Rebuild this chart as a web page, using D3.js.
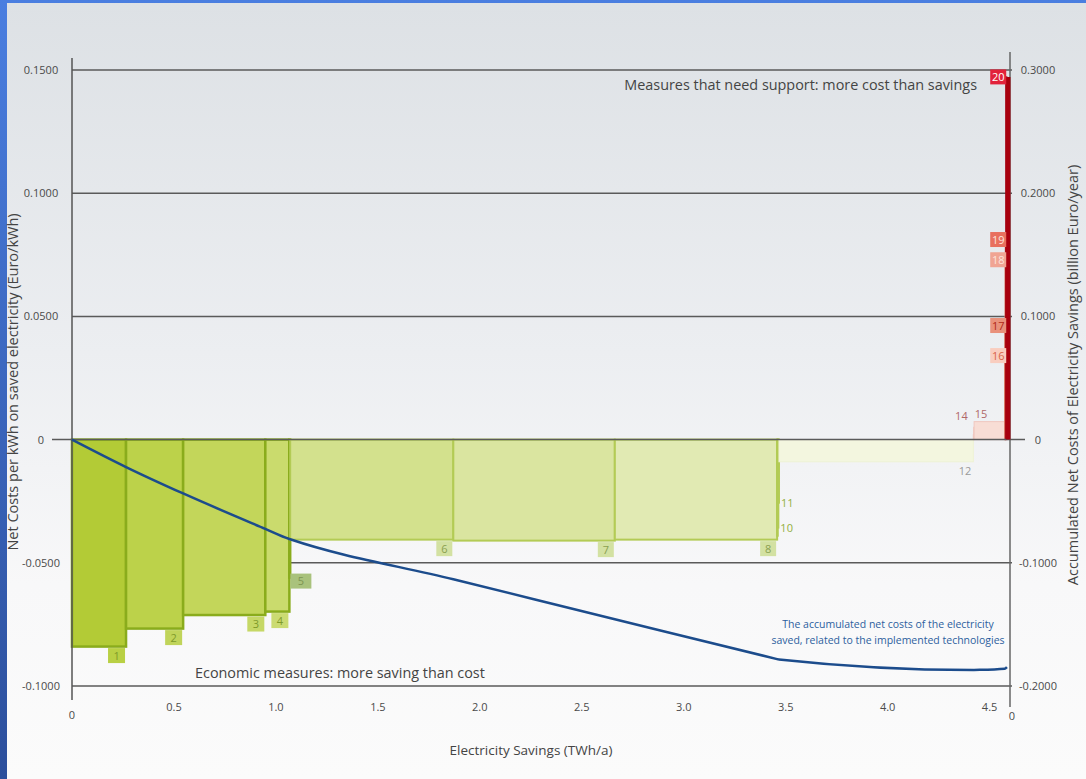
<!DOCTYPE html>
<html>
<head>
<meta charset="utf-8">
<script src="https://cdn.jsdelivr.net/npm/d3@7"></script>
<style>
html,body{margin:0;padding:0;background:#3a68c8;}
svg{display:block;}
text{font-family:"Open Sans","Liberation Sans",sans-serif;}
</style>
</head>
<body>
<svg id="chart" width="1086" height="779"></svg>
<script>
// ---- data ----
const measures = ["1","2","3","4","5","6","7","8","9","10","11","12","13","14","15","16","17","18","19","20"];
// electricity saved per measure (TWh/a)
const savings  = [0.265,0.280,0.403,0.118,0.004,0.800,0.792,0.796,0.003,0.003,0.003,0.953,0.002,0.002,0.150,0.001,0.001,0.001,0.002,0.006];
// net cost per kWh saved (Euro/kWh)
const netCost  = [-0.0840,-0.0767,-0.0712,-0.0698,-0.0560,-0.0406,-0.0410,-0.0406,-0.0390,-0.0357,-0.0256,-0.0090,0.0020,0.0050,0.0073,0.0341,0.0463,0.0730,0.0812,0.1472];
const leftTicks = [0.15,0.10,0.05,0,-0.05,-0.10];
const leftTickLabels = ["0.1500","0.1000","0.0500","0","-0.0500","-0.1000"];
const rightTicks = [0.3,0.2,0.1,0,-0.1,-0.2];
const rightTickLabels = ["0.3000","0.2000","0.1000","0","-0.1000","-0.2000"];
const xTicks = [0.5,1.0,1.5,2.0,2.5,3.0,3.5,4.0,4.5];
const xTickLabels = ["0.5","1.0","1.5","2.0","2.5","3.0","3.5","4.0","4.5"];
const titleTop = "Measures that need support: more cost than savings";
const titleBottom = "Economic measures: more saving than cost";
const lineNote = ["The accumulated net costs of the electricity","saved, related to the implemented technologies"];
const xTitle = "Electricity Savings (TWh/a)";
const yTitleLeft = "Net Costs per kWh on saved electricity (Euro/kWh)";
const yTitleRight = "Accumulated Net Costs of Electricity Savings (billion Euro/year)";

// ---- styles ----
const fills  = ["#b3cb36","#bcd24a","#c3d65a","#cadb6d","#c8da6d","#d3e18d","#dae5a0","#e1eab3","#e1eab3","#e1eab3","#e1eab3","#f3f6df","#f7dcd4","#f7dcd4","#f8ddd5","#f6c2b2","#e8907a","#ef9c8a","#e67462","#c0101a"];
const strokes= ["#8aac1c","#8aac1c","#8aac1c","#8aac1c","#8aac1c","#b3cb55","#b3cb55","#b3cb55","#b3cb55","#b3cb55","#b3cb55","#eef2d4","#f0c8c0","#f0c8c0","#f0c8c0","#e8a090","#d07060","#e08070","#d05040","#a00010"];

const svg = d3.select("#chart");
const defs = svg.append("defs");
const bg = defs.append("linearGradient").attr("id","bg").attr("x1",0).attr("y1",0).attr("x2",0).attr("y2",1);
bg.append("stop").attr("offset","0%").attr("stop-color","#dde1e5");
bg.append("stop").attr("offset","45%").attr("stop-color","#eceef1");
bg.append("stop").attr("offset","75%").attr("stop-color","#f8f8f9");
bg.append("stop").attr("offset","100%").attr("stop-color","#fbfbfb");
const blue = defs.append("linearGradient").attr("id","blue").attr("x1",0).attr("y1",0).attr("x2",0).attr("y2",1);
blue.append("stop").attr("offset","0%").attr("stop-color","#4a7ee0");
blue.append("stop").attr("offset","100%").attr("stop-color","#2c4f9c");

svg.append("rect").attr("x",0).attr("y",0).attr("width",1086).attr("height",779).attr("fill","url(#blue)");
svg.append("rect").attr("x",7).attr("y",3).attr("width",1079).attr("height",776).attr("fill","url(#bg)");

const x = d3.scaleLinear().domain([0,4.6]).range([72,1010]);
const yL = d3.scaleLinear().domain([-0.10,0.15]).range([686,70]);
const yR = d3.scaleLinear().domain([-0.2,0.3]).range([686,70]);

// bar geometry from data
let acc = 0, cum = 0;
const bars = measures.map((m,i)=>{
  const x0 = acc; acc += savings[i];
  const c0 = cum; cum += savings[i]*netCost[i];
  return {m, x0, x1:acc, v:netCost[i], c0, c1:cum, i};
});

// grid lines
const grid = svg.append("g");
leftTicks.forEach(t=>{
  if (t===0) return;
  grid.append("line").attr("x1",x(0)).attr("x2",x(4.6)+2)
    .attr("y1",yL(t)).attr("y2",yL(t)).attr("stroke","#5a5a5a").attr("stroke-width",1.5);
});

// bars
const gb = svg.append("g");
bars.forEach(b=>{
  const y0 = yL(Math.max(0,b.v)), y1 = yL(Math.min(0,b.v));
  gb.append("rect").attr("x",x(b.x0)).attr("y",y0)
    .attr("width",Math.max(0.3,x(b.x1)-x(b.x0))).attr("height",y1-y0)
    .attr("fill",fills[b.i]).attr("stroke",strokes[b.i])
    .attr("stroke-width", b.i<5 ? 2.5 : (b.i<11 ? 2 : 1));
});

// left / right axes lines
svg.append("line").attr("x1",x(0)).attr("x2",x(0)).attr("y1",58).attr("y2",700).attr("stroke","#555").attr("stroke-width",1.5);
svg.append("line").attr("x1",x(4.6)).attr("x2",x(4.6)).attr("y1",52).attr("y2",707).attr("stroke","#666").attr("stroke-width",1.5);
// zero line
svg.append("line").attr("x1",52).attr("x2",1025).attr("y1",yL(0)).attr("y2",yL(0)).attr("stroke","#5a5a5a").attr("stroke-width",1.5);

// red bar 20 emphasised
const b20 = bars[19];
svg.append("line").attr("x1",x(b20.x0)+2.5).attr("x2",x(b20.x0)+2.5)
  .attr("y1",yL(0)).attr("y2",yL(b20.v)).attr("stroke","#a8000e").attr("stroke-width",4.5);

// label boxes
const lab = svg.append("g").attr("font-size",11);
function box(xr, ytop, w, fill, txt, tcol, anchorLeft){
  const bx = anchorLeft ? xr : xr - w;
  lab.append("rect").attr("x",bx).attr("y",ytop).attr("width",w).attr("height",15).attr("fill",fill);
  lab.append("text").attr("x",bx+w/2).attr("y",ytop+11.5).attr("text-anchor","middle").attr("fill",tcol).text(txt);
}
const greenBox = ["#b9d044","#c0d45a","#c6d866","#cbdb72"];
[0,1,2,3].forEach(i=>{ const b=bars[i]; box(x(b.x1)-1, yL(b.v)+1.5, 17, greenBox[i], b.m, "#7e9a2a"); });
box(x(bars[4].x0)+1, yL(bars[4].v)-4, 21, "#a9c27c", bars[4].m, "#7d9552", true);
[5,6,7].forEach(i=>{ const b=bars[i]; box(x(b.x1)-1, yL(b.v)+1.5, 16, "#d3e1a2", b.m, "#8aa050"); });
lab.append("text").attr("x",x(bars[9].x1)+2).attr("y",yL(bars[9].v)+4).attr("fill","#93b040").text(bars[9].m);
lab.append("text").attr("x",x(bars[10].x1)+2).attr("y",yL(bars[10].v)+4).attr("fill","#93b040").text(bars[10].m);
lab.append("text").attr("x",x(bars[11].x1)-2).attr("y",yL(bars[11].v)+13).attr("text-anchor","end").attr("fill","#9a9a9a").text(bars[11].m);
lab.append("text").attr("x",x(bars[13].x0)-6).attr("y",yL(bars[13].v)-7).attr("text-anchor","end").attr("fill","#b06868").text(bars[13].m);
lab.append("text").attr("x",x(bars[14].x0)+7).attr("y",yL(bars[14].v)-4).attr("text-anchor","middle").attr("fill","#b06868").text(bars[14].m);
const redBoxes = {15:["#f9cdbf","#d8644a"],16:["#e9917b","#b02818"],17:["#f0a493","#fde4dc"],18:["#e8705e","#fde4dc"],19:["#e2223a","#ffffff"]};
[15,16,17,18,19].forEach(i=>{ const b=bars[i]; box(x(bars[19].x0)+0.5, yL(b.v)-7.5, 16, redBoxes[i][0], b.m, redBoxes[i][1]); });

// accumulated line (right axis)
const linePts = [{x:0,c:0}].concat(bars.map(b=>({x:b.x1,c:b.c1})));
svg.append("path").datum(linePts)
  .attr("d", d3.line().x(d=>x(d.x)).y(d=>yR(d.c)).curve(d3.curveMonotoneX))
  .attr("fill","none").attr("stroke","#1c4c8c").attr("stroke-width",2.5);

// tick labels
const tl = svg.append("g").attr("font-size",11).attr("fill","#4a4a4a");
leftTicks.forEach((t,i)=>tl.append("text").attr("x",41).attr("y",yL(t)+4).attr("text-anchor","middle").text(leftTickLabels[i]));
rightTicks.forEach((t,i)=>tl.append("text").attr("x",1038).attr("y",yR(t)+4).attr("text-anchor","middle").text(rightTickLabels[i]));
xTicks.forEach((t,i)=>tl.append("text").attr("x",x(t)).attr("y",711).attr("text-anchor","middle").text(xTickLabels[i]));
tl.append("text").attr("x",x(0)).attr("y",719).attr("text-anchor","middle").text("0");
tl.append("text").attr("x",1012).attr("y",720).attr("text-anchor","middle").text("0");

// titles
svg.append("text").attr("x",977).attr("y",90).attr("text-anchor","end").attr("font-size",14.4).attr("fill","#444").text(titleTop);
svg.append("text").attr("x",195).attr("y",678).attr("font-size",14.4).attr("fill","#444").text(titleBottom);
lineNote.forEach((s,i)=>svg.append("text").attr("x",888).attr("y",628+i*16).attr("text-anchor","middle").attr("font-size",10.5).attr("fill","#2d5f9e").text(s));
svg.append("text").attr("x",531).attr("y",755).attr("text-anchor","middle").attr("font-size",13.5).attr("fill","#444").text(xTitle);
svg.append("text").attr("transform","translate(18,382) rotate(-90)").attr("text-anchor","middle").attr("font-size",14.5).attr("fill","#444").text(yTitleLeft);
svg.append("text").attr("transform","translate(1078,375) rotate(-90)").attr("text-anchor","middle").attr("font-size",14.5).attr("fill","#444").text(yTitleRight);
</script>
</body>
</html>
